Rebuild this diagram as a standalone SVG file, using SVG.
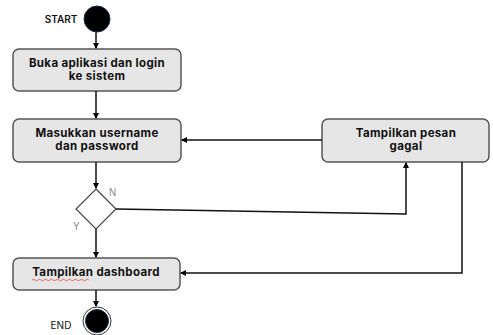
<svg xmlns="http://www.w3.org/2000/svg" width="493" height="335" viewBox="0 0 493 335">
<defs>
<marker id="ah" markerWidth="6" markerHeight="6" refX="5" refY="3" orient="auto" markerUnits="userSpaceOnUse">
<path d="M0,0 L6,3 L0,6 Z" fill="#000"/>
</marker>
<style>
.box{fill:#e6e6e6;stroke:#555;stroke-width:1.5}
.t{font-family:Inter,"Open Sans",sans-serif;font-weight:700;font-size:11.5px;letter-spacing:0.35px;fill:#111;text-anchor:middle}
.lbl{font-family:Inter,"Open Sans",sans-serif;font-size:10px;fill:#111}
.yn{font-family:"Liberation Sans",Arial,sans-serif;font-size:10px;fill:#888}
.c{fill:none;stroke:#111;stroke-width:1.5}
</style>
</defs>
<rect width="493" height="335" fill="#fff"/>
<g id="start">
<circle cx="97" cy="19" r="13" fill="#000" stroke="#1a2a4a" stroke-width="1"/>
<text class="lbl" x="61" y="23" text-anchor="middle" font-weight="600">START</text>
</g>
<g id="buka">
<rect class="box" x="13" y="49" width="168" height="42" rx="6"/>
<text class="t" x="97" y="67">Buka aplikasi dan login</text>
<text class="t" x="97" y="80">ke sistem</text>
</g>
<g id="masukkan">
<rect class="box" x="13" y="119" width="168" height="43" rx="6"/>
<text class="t" x="97" y="137">Masukkan username</text>
<text class="t" x="97" y="150">dan password</text>
</g>
<g id="pesan">
<rect class="box" x="322" y="119" width="167" height="43" rx="6"/>
<text class="t" x="406" y="137">Tampilkan pesan</text>
<text class="t" x="406" y="150">gagal</text>
</g>
<g id="decision">
<polygon points="96,189 116,209 96,229 76,209" fill="#fff" stroke="#444" stroke-width="1.2"/>
<text class="yn" x="109" y="196">N</text>
<text class="yn" x="73" y="230">Y</text>
</g>
<g id="dashboard">
<rect class="box" x="13" y="258" width="167" height="32" rx="6"/>
<text class="t" x="96" y="276">Tampilkan dashboard</text>
<path d="M32,280 q1.5,-1.5 3,0 t3,0 t3,0 t3,0 t3,0 t3,0 t3,0 t3,0 t3,0 t3,0 t3,0 t3,0 t3,0 t3,0 t3,0 t3,0 t3,0 t3,0 t3,0" fill="none" stroke="#d33" stroke-width="0.7"/>
</g>
<g id="end">
<circle cx="97" cy="321" r="14" fill="#fff" stroke="#333" stroke-width="1"/>
<circle cx="97" cy="321" r="11.5" fill="#000" stroke="#1a2a4a" stroke-width="1"/>
<text class="lbl" x="61" y="329" text-anchor="middle">END</text>
</g>
<g id="connectors">
<path class="c" d="M96,32 V48" marker-end="url(#ah)"/>
<path class="c" d="M96,91 V118" marker-end="url(#ah)"/>
<path class="c" d="M96,162 V188" marker-end="url(#ah)"/>
<path class="c" d="M322,140 H182" marker-end="url(#ah)"/>
<path class="c" d="M116,209 L406,214 V163" marker-end="url(#ah)"/>
<path class="c" d="M462,162 V273 H181" marker-end="url(#ah)"/>
<path class="c" d="M96,229 V257" marker-end="url(#ah)"/>
<path class="c" d="M96,290 V306" marker-end="url(#ah)"/>
</g>
</svg>
